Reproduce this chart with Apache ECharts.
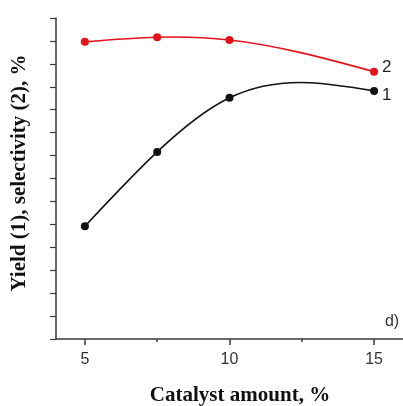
<!DOCTYPE html>
<html>
<head>
<meta charset="utf-8">
<script src="https://cdn.jsdelivr.net/npm/echarts@6/dist/echarts.min.js"></script>
<style>
  html, body { margin: 0; padding: 0; background: #fff; }
  #chart { width: 403px; height: 406px; }
</style>
</head>
<body>
<div id="chart"></div>
<script>
// Catalyst loading, %
const catalystAmount = [5, 7.5, 10, 15];
// Series 1: product yield, %
const yieldValues = [54.6, 70.8, 82.6, 84.1];
// Series 2: selectivity, %
const selectivityValues = [94.8, 95.8, 95.2, 88.3];
// Labelled x positions and minor tick positions
const xMajorTicks = [5, 10, 15];
const xMinorTicks = [7.5, 12.5];
const seriesTags = ['1', '2'];

const chart = echarts.init(document.getElementById('chart'), null, { renderer: 'canvas' });

// Natural cubic spline: returns the first derivative at each knot,
// so every segment can be drawn as one cubic Bezier curve.
function splineSlopes(xs, ys) {
  const n = xs.length;
  const h = [], d = [];
  for (let i = 0; i < n - 1; i++) {
    h.push(xs[i + 1] - xs[i]);
    d.push((ys[i + 1] - ys[i]) / h[i]);
  }
  // Solve the tridiagonal system for second derivatives (M0 = Mn-1 = 0)
  const M = new Array(n).fill(0);
  if (n > 2) {
    const a = [], b = [], c = [], r = [];
    for (let i = 1; i < n - 1; i++) {
      a.push(h[i - 1]);
      b.push(2 * (h[i - 1] + h[i]));
      c.push(h[i]);
      r.push(6 * (d[i] - d[i - 1]));
    }
    const m = b.length;
    for (let i = 1; i < m; i++) {
      const w = a[i] / b[i - 1];
      b[i] -= w * c[i - 1];
      r[i] -= w * r[i - 1];
    }
    const sol = new Array(m);
    sol[m - 1] = r[m - 1] / b[m - 1];
    for (let i = m - 2; i >= 0; i--) sol[i] = (r[i] - c[i] * sol[i + 1]) / b[i];
    for (let i = 0; i < m; i++) M[i + 1] = sol[i];
  }
  const slopes = [];
  for (let i = 0; i < n - 1; i++) slopes.push(d[i] - h[i] * (2 * M[i] + M[i + 1]) / 6);
  slopes.push(d[n - 2] + h[n - 2] * (M[n - 2] + 2 * M[n - 1]) / 6);
  return slopes;
}

// Smooth connecting curve drawn through the axis scales
function curveSeries(values, color) {
  const slopes = splineSlopes(catalystAmount, values);
  return {
    type: 'custom',
    coordinateSystem: 'cartesian2d',
    silent: true,
    z: 2,
    data: catalystAmount.map((x, i) => [x, values[i]]),
    encode: { x: 0, y: 1 },
    renderItem: function (params, api) {
      const i = params.dataIndex;
      if (i >= catalystAmount.length - 1) return null;
      const x0 = catalystAmount[i], x1 = catalystAmount[i + 1];
      const y0 = values[i], y1 = values[i + 1];
      const h = x1 - x0;
      const p0 = api.coord([x0, y0]);
      const c1 = api.coord([x0 + h / 3, y0 + slopes[i] * h / 3]);
      const c2 = api.coord([x1 - h / 3, y1 - slopes[i + 1] * h / 3]);
      const p1 = api.coord([x1, y1]);
      return {
        type: 'bezierCurve',
        shape: {
          x1: p0[0], y1: p0[1], x2: p1[0], y2: p1[1],
          cpx1: c1[0], cpy1: c1[1], cpx2: c2[0], cpy2: c2[1]
        },
        style: { stroke: color, lineWidth: 1.6, fill: null }
      };
    }
  };
}

function pointSeries(values, color, tag, dy) {
  return {
    type: 'scatter',
    symbol: 'circle',
    symbolSize: 8,
    z: 3,
    itemStyle: { color: color, opacity: 1 },
    data: values.map((v, i) => {
      const item = { value: [catalystAmount[i], v] };
      if (i === values.length - 1) {
        item.label = {
          show: true,
          formatter: tag,
          position: 'right',
          distance: 4,
          offset: [0, dy],
          color: '#222',
          fontFamily: 'Liberation Sans, Arial, sans-serif',
          fontSize: 17
        };
      }
      return item;
    })
  };
}

const axisColor = '#3a3a3a';
const titleFont = 'bold 21px "Liberation Serif", "Times New Roman", serif';

chart.setOption({
  animation: false,
  backgroundColor: '#fff',
  grid: { left: 56, top: 18, width: 348, bottom: 67, containLabel: false },
  xAxis: [
    {
      type: 'value', min: 4, max: 16,
      axisLine: { show: true, lineStyle: { color: axisColor, width: 1.5 } },
      axisTick: { show: true, customValues: xMajorTicks, length: 6, lineStyle: { color: axisColor, width: 1.5 } },
      axisLabel: {
        show: true, customValues: xMajorTicks, margin: 13,
        color: '#333', fontSize: 16, fontFamily: 'Liberation Sans, Arial, sans-serif'
      },
      splitLine: { show: false }
    },
    {
      type: 'value', min: 4, max: 16, position: 'bottom',
      axisLine: { show: false },
      axisTick: { show: true, customValues: xMinorTicks, length: 3, lineStyle: { color: axisColor, width: 1.5 } },
      axisLabel: { show: false },
      splitLine: { show: false }
    }
  ],
  yAxis: {
    type: 'value', min: 30, max: 100, interval: 5,
    axisLine: { show: true, onZero: false, lineStyle: { color: axisColor, width: 1.5 } },
    axisTick: { show: true, length: 6, lineStyle: { color: axisColor, width: 1.2 } },
    axisLabel: { show: false },
    splitLine: { show: false }
  },
  graphic: [
    {
      type: 'text', x: 240, y: 396,
      style: {
        text: 'Catalyst amount, %', fill: '#111',
        align: 'center', verticalAlign: 'middle', font: titleFont
      }
    },
    {
      type: 'text', x: 20, y: 173, rotation: Math.PI / 2,
      style: {
        text: 'Yield (1), selectivity (2), %', fill: '#111',
        align: 'center', verticalAlign: 'middle', font: titleFont
      }
    },
    {
      type: 'text', x: 392, y: 322,
      style: {
        text: 'd)', fill: '#333', align: 'center', verticalAlign: 'middle',
        font: '16px "Liberation Sans", Arial, sans-serif'
      }
    }
  ],
  series: [
    curveSeries(yieldValues, '#111'),
    curveSeries(selectivityValues, '#e3121b'),
    pointSeries(yieldValues, '#111', seriesTags[0], 4),
    pointSeries(selectivityValues, '#e3121b', seriesTags[1], -4)
  ]
});
</script>
</body>
</html>
